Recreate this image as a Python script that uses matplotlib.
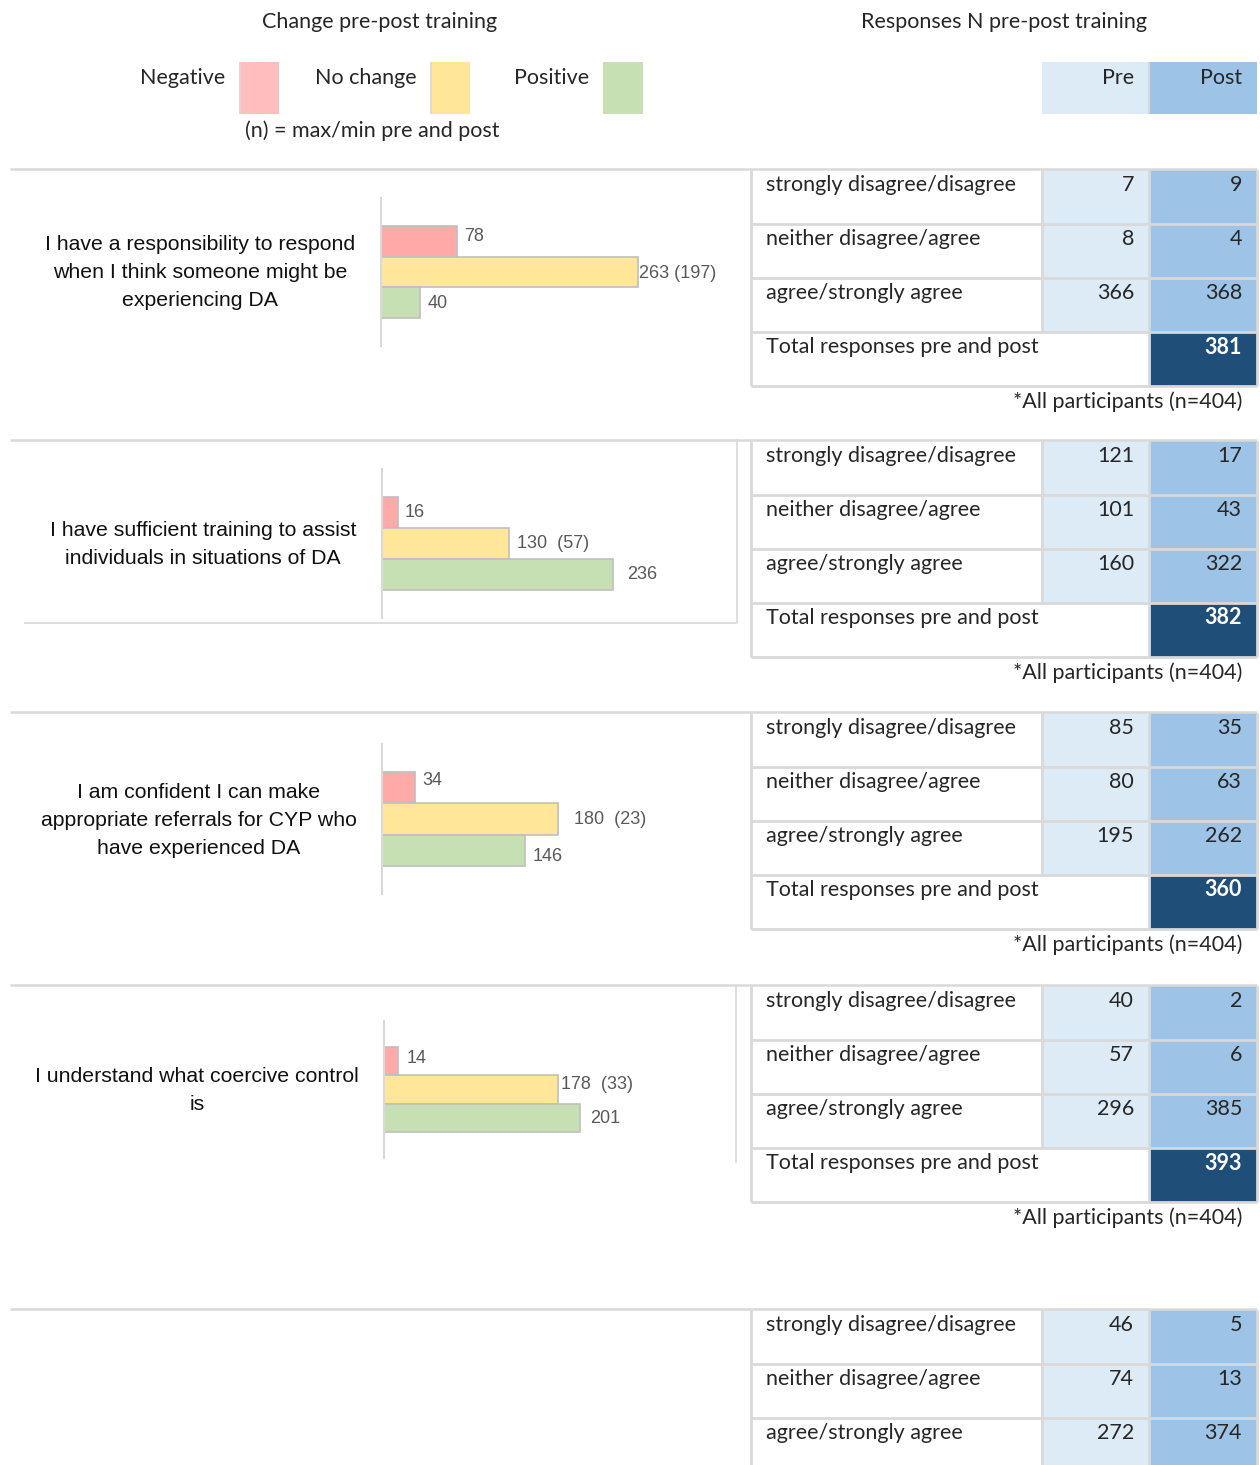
import matplotlib.pyplot as plt
from matplotlib.patches import Rectangle

W, H = 1260, 1465

# change pre-post training, one entry per question
questions = [
    "I have a responsibility to respond\nwhen I think someone might be\nexperiencing DA",
    "I have sufficient training to assist\nindividuals in situations of DA",
    "I am confident I can make\nappropriate referrals for CYP who\nhave experienced DA",
    "I understand what coercive control\nis",
]
negative = [78, 16, 34, 14]
no_change = [263, 130, 180, 178]
no_change_minmax = [197, 57, 23, 33]
positive = [40, 236, 146, 201]

# responses N pre-post training
row_labels = ["strongly disagree/disagree", "neither disagree/agree", "agree/strongly agree"]
pre = [[7, 8, 366], [121, 101, 160], [85, 80, 195], [40, 57, 296], [46, 74, 272]]
post = [[9, 4, 368], [17, 43, 322], [35, 63, 262], [2, 6, 385], [5, 13, 374]]
totals = [381, 382, 360, 393]
participants = 404

NEG, NOCH, POS = "#FFA9A9", "#FFE699", "#C6E0B4"
PRE_C, POST_C, TOT_C = "#DDEBF7", "#9DC3E6", "#1F4E79"
GRID = "#D9D9D9"
TXT = "#262626"
narrow = ["Liberation Sans Narrow", "Liberation Sans", "DejaVu Sans"]
calib = ["Lato", "DejaVu Sans"]
FS = 15.5

fig = plt.figure(figsize=(W / 100, H / 100), dpi=100)
bg = fig.add_axes([0, 0, 1, 1])
bg.set_xlim(0, W)
bg.set_ylim(H, 0)
bg.axis("off")


def rect(x, y, w, h, fc):
    bg.add_patch(Rectangle((x, y), w, h, facecolor=fc, edgecolor="none", zorder=1))


def hline(y, x0, x1, lw=1.5):
    bg.plot([x0, x1], [y, y], color=GRID, lw=lw, zorder=2, solid_capstyle="butt")


def vline(x, y0, y1, lw=1.5):
    bg.plot([x, x], [y0, y1], color=GRID, lw=lw, zorder=2, solid_capstyle="butt")


def txt(x, y, s, ha="left", **kw):
    kw.setdefault("color", TXT)
    bg.text(x, y, s, ha=ha, va="center", fontsize=FS, family=calib, **kw)


# headings and legend
txt(380, 22, "Change pre-post training", ha="center")
txt(1004, 22, "Responses N pre-post training", ha="center")
for name, fc, tx, rx in [("Negative", "#FFBDBD", 225, 239),
                         ("No change", NOCH, 417, 430),
                         ("Positive", POS, 589, 603)]:
    txt(tx, 78, name, ha="right")
    rect(rx, 62, 40, 52, fc)
vline(240, 62, 114, lw=1.2)
vline(431, 62, 114, lw=1.2)
txt(372, 131, "(n) = max/min pre and post", ha="center")

rect(1042, 62, 107, 52, PRE_C)
rect(1150, 62, 107, 52, POST_C)
vline(1149, 62, 114, lw=1.5)
txt(1134, 78, "Pre", ha="right")
txt(1242, 78, "Post", ha="right")

# tables
block_tops = [170, 441, 713, 986, 1310]
row_h = 54
for b, T in enumerate(block_tops):
    hline(T - 1, 10, 1257, lw=1.8)
    n_rows = 4 if b < len(totals) else 3
    for r in range(3):
        y = T + r * row_h
        rect(1042, y, 107, row_h, PRE_C)
        rect(1149, y, 108, row_h, POST_C)
        txt(766, y + 15, row_labels[r])
        txt(1134, y + 15, str(pre[b][r]), ha="right")
        txt(1242, y + 15, str(post[b][r]), ha="right")
    bottom = T + n_rows * row_h
    if b < len(totals):
        y = T + 3 * row_h
        rect(1149, y, 108, row_h, TOT_C)
        txt(766, y + 15, "Total responses pre and post")
        txt(1242, y + 15, str(totals[b]), ha="right", color="white", fontweight="bold")
        txt(1242, T + 232, f"*All participants (n={participants})", ha="right")
    for k in range(1, n_rows + 1):
        hline(T + k * row_h, 751, 1257, lw=2)
    vline(751, T, bottom, lw=2)
    vline(1042, T, T + 3 * row_h, lw=2)
    vline(1149, T, bottom, lw=2)
    vline(1257, T, bottom, lw=2)

# chart area edges
vline(737, 439, 623, lw=1.2)
hline(623, 24, 737, lw=1.2)
vline(736, 985, 1163, lw=1.2)

# bar charts: (axis x, axis top, axis bottom) in pixels
chart_axis = [(381, 198, 346), (382, 469, 618), (382, 744, 894), (384, 1021, 1158)]
question_xy = [(200, 273), (203, 545), (199, 820), (197, 1091)]
# label offsets in pixels from bar end: (dx, dy) for negative, no change, positive
label_off = [
    [(7, 5), (1, -1), (8, -1)],
    [(7, 0), (8, 0), (15, 0)],
    [(7, 7), (16, 0), (8, -6)],
    [(9, 2), (3, 5), (10, 0)],
]
px_per_unit = 0.977
ax_w = 355

for i, (axx, top, bot) in enumerate(chart_axis):
    ax = fig.add_axes([axx / W, 1 - bot / H, ax_w / W, (bot - top) / H])
    vals = [negative[i], no_change[i], positive[i]]
    ax.barh([1, 0, -1], vals, height=1, color=[NEG, NOCH, POS],
            edgecolor="#BFBFBF", linewidth=1.2)
    ax.set_xlim(0, ax_w / px_per_unit)
    ax.set_ylim(-2.4, 2.4)
    ax.set_xticks([])
    ax.set_yticks([])
    for s in ("top", "right", "bottom"):
        ax.spines[s].set_visible(False)
    ax.spines["left"].set_color(GRID)
    ax.spines["left"].set_linewidth(1.5)
    ax.patch.set_alpha(0)
    labels = [str(negative[i]), f"{no_change[i]}  ({no_change_minmax[i]})", str(positive[i])]
    if i == 0:
        labels[1] = f"{no_change[i]} ({no_change_minmax[i]})"
    for j, (v, lab) in enumerate(zip(vals, labels)):
        dx, dy = label_off[i][j]
        ax.annotate(lab, (v, 1 - j), xytext=(dx, dy), textcoords="offset pixels",
                    ha="left", va="center", fontsize=13, family=narrow,
                    color="#595959", annotation_clip=False)
    qx, qy = question_xy[i]
    bg.text(qx, qy, questions[i], ha="center", va="center", fontsize=15.3,
            family=narrow, color="#111111", linespacing=1.6)

fig.savefig("out.png", dpi=100)
